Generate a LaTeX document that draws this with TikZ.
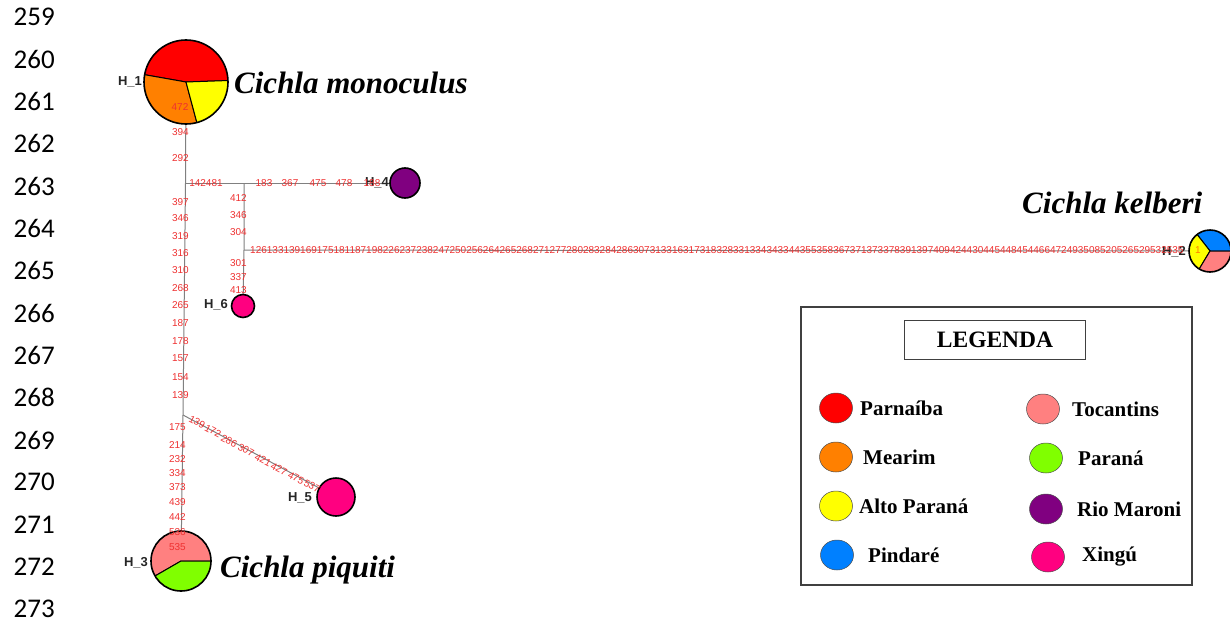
\documentclass[tikz,border=0pt]{standalone}
\usepackage{fontspec}
\setmainfont{Liberation Serif}
\newfontfamily\sansfam{Liberation Sans}
\newfontfamily\linefam{Carlito}
\usetikzlibrary{shapes.geometric,backgrounds}

\definecolor{cParnaiba}{RGB}{255,0,0}
\definecolor{cMearim}{RGB}{255,128,0}
\definecolor{cAlto}{RGB}{255,255,0}
\definecolor{cPindare}{RGB}{0,128,255}
\definecolor{cTocantins}{RGB}{255,128,128}
\definecolor{cParana}{RGB}{128,255,0}
\definecolor{cMaroni}{RGB}{128,0,128}
\definecolor{cXingu}{RGB}{255,0,128}
\definecolor{mutred}{RGB}{238,48,48}
\definecolor{edgegray}{RGB}{128,128,128}

% one wedge of a haplotype pie, drawn inside the node (path picture)
\newcommand{\pieslice}[3]{%
  \filldraw[fill=#3, draw=black, line width=1pt]
    (path picture bounding box.center) -- ++(#1:60pt)
    arc[start angle=#1, end angle=#2, radius=60pt] -- cycle;}

\tikzset{
  edge/.style={draw=edgegray, line width=1pt},
  hap/.style={circle, draw=black, line width=1.6pt, inner sep=0pt},
  mut/.style={text=mutred, font=\sansfam\fontsize{10}{10}\selectfont, inner sep=0pt},
  vmut/.style={mut, anchor=east},
  dmut/.style={mut, rotate=-28},
  hlabel/.style={font=\sansfam\bfseries\fontsize{13}{13}\selectfont, text=black!85, inner sep=0pt},
  species/.style={font=\bfseries\itshape\fontsize{31}{31}\selectfont, anchor=base west, inner sep=0pt},
  lineno/.style={font=\linefam\fontsize{27}{27}\selectfont, anchor=east, inner sep=0pt},
  legdot/.style={ellipse, draw=black!70, line width=0.5pt, minimum width=33pt, minimum height=30pt, inner sep=0pt},
  legtext/.style={font=\bfseries\fontsize{21}{21}\selectfont, anchor=west, inner sep=0pt},
}

\begin{document}
\begin{tikzpicture}[x=1pt, y=-1pt]
\useasboundingbox (0,0) rectangle (1230,626);

% line numbers of the manuscript page
\foreach \n [count=\k from 0] in {259,...,273}
  \node[lineno] (ln\n) at (55, 17+42.3*\k) {\n};

% branching points of the network
\coordinate (j1) at (185.5,183);
\coordinate (j2) at (183,415);
\coordinate (j3) at (244,183);
\coordinate (j4) at (244,250);

% haplotypes
\node[hap, minimum size=84pt, path picture={\pieslice{2}{170}{cParnaiba}\pieslice{170}{285}{cMearim}\pieslice{285}{362}{cAlto}}] (h1) at (186,82) {};
\node[hap, minimum size=42pt, path picture={\pieslice{0}{128}{cPindare}\pieslice{128}{239}{cAlto}\pieslice{239}{360}{cTocantins}}] (h2) at (1210,251) {};
\node[hap, minimum size=60pt, path picture={\pieslice{0}{210}{cTocantins}\pieslice{210}{360}{cParana}}] (h3) at (181,561) {};
\node[hap, minimum size=30pt, fill=cMaroni] (h4) at (405,183) {};
\node[hap, minimum size=38pt, fill=cXingu] (h5) at (336,497) {};
\node[hap, minimum size=23pt, fill=cXingu] (h6) at (243,306) {};

% connectors
\begin{scope}[on background layer]
  \draw[edge] (h1.center) -- (j1) -- (j2) -- (h3.center);
  \draw[edge] (j1) -- (h4.center);
  \draw[edge] (j3) -- (j4) -- (h6.center);
  \draw[edge] (j4) -- (h2.center);
  \draw[edge] (j2) -- (h5.center);
\end{scope}

% haplotype names
\node[hlabel] (n1) at (130,82) {H\_1};
\node[hlabel] (n2) at (1174,252) {H\_2};
\node[hlabel] (n3) at (136,563) {H\_3};
\node[hlabel] (n4) at (377,183) {H\_4};
\node[hlabel] (n5) at (300,498) {H\_5};
\node[hlabel] (n6) at (216,305) {H\_6};

% mutated sites, main stem
\node[mut] (m472) at (180,107) {472};
\foreach \t/\y in {394/132,292/158,397/202,346/218,319/236,316/253,310/270,268/288,265/305,187/323,178/341,157/358,154/377,139/395}
  \node[vmut] at (189,\y) {\t};
\foreach \t/\y in {175/427,214/445,232/459,334/473,373/487,439/502,442/517,536/532,535/547}
  \node[vmut] at (186,\y) {\t};
% branch towards H_4
\foreach \t/\x in {142481/206,183/264,367/290,475/318,478/344,188/372}
  \node[mut] at (\x,183) {\t};
% branch towards H_6
\foreach \t/\y in {412/198,346/215,304/232,301/263,337/277,413/290}
  \node[vmut] at (247,\y) {\t};
% branch towards H_5
\foreach \t/\x/\y in {139/197/422,172/213/431,286/229/441,307/246/450,421/263/460,427/279/469,475/296/478,537/312/486}
  \node[dmut] at (\x,\y) {\t};
% long branch towards H_2
\node[mut, anchor=west] (mlong) at (250,250) {126133139169175181187198226237238247250256264265268271277280283284286307313316317318328331334343344355358367371373378391397409424430445448454466472493508520526529532535};
\node[mut, text=cMearim] (m1) at (1198,250) {1};

% species names
\node[species] (sp1) at (234,93) {Cichla monoculus};
\node[species] (sp2) at (1022,213) {Cichla kelberi};
\node[species] (sp3) at (220,577) {Cichla piquiti};

% legend
\node[draw=black!75, line width=1.2pt, minimum width=391pt, minimum height=278pt] (legend) at (996.5,446) {};
\node[draw=black!75, line width=1pt, minimum width=181pt, minimum height=39pt, font=\bfseries\fontsize{23.5}{23.5}\selectfont] (legtitle) at (995,339.5) {LEGENDA};

\node[legdot, fill=cParnaiba] (d1) at (836,408) {};
\node[legtext] (t1) at (860,408) {Parnaíba};
\node[legdot, fill=cMearim] (d2) at (836,457) {};
\node[legtext] (t2) at (863,457) {Mearim};
\node[legdot, fill=cAlto] (d3) at (836,506) {};
\node[legtext] (t3) at (859,506) {Alto Paraná};
\node[legdot, fill=cPindare] (d4) at (837,555) {};
\node[legtext] (t4) at (868,555) {Pindaré};

\node[legdot, fill=cTocantins] (d5) at (1043,409) {};
\node[legtext] (t5) at (1072,409) {Tocantins};
\node[legdot, fill=cParana] (d6) at (1046,458) {};
\node[legtext] (t6) at (1078,458) {Paraná};
\node[legdot, fill=cMaroni] (d7) at (1046,509) {};
\node[legtext] (t7) at (1077,509) {Rio Maroni};
\node[legdot, fill=cXingu] (d8) at (1048,557) {};
\node[legtext] (t8) at (1082,557) {Xingú};
\end{tikzpicture}
\end{document}
